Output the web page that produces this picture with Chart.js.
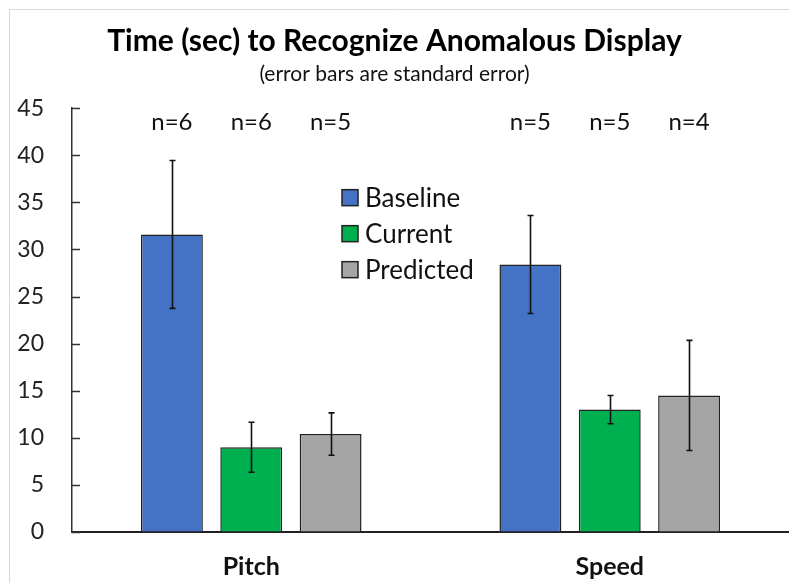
<!DOCTYPE html>
<html>
<head>
<meta charset="utf-8">
<script src="https://cdn.jsdelivr.net/npm/chart.js@4.4.0/dist/chart.umd.min.js"></script>
<style>
  html, body { margin: 0; padding: 0; background: #fff; }
  canvas { display: block; }
</style>
</head>
<body>
<canvas id="timeChart" width="789" height="583"></canvas>
<script>
const categories = ["Pitch", "Speed"];
const seriesNames = ["Baseline", "Current", "Predicted"];
const seriesColors = ["#4472c4", "#00b050", "#a5a5a5"];
// mean seconds per condition
const baseline = [31.6, 28.4];
const current = [9.0, 13.0];
const predicted = [10.4, 14.5];
// standard error
const baselineErr = [7.85, 5.2];
const currentErr = [2.65, 1.5];
const predictedErr = [2.25, 5.85];
// number of subjects
const baselineN = [6, 5];
const currentN = [6, 5];
const predictedN = [5, 4];
const yTicks = [0, 5, 10, 15, 20, 25, 30, 35, 40, 45];

const FONT = "Lato, 'Open Sans', sans-serif";

const errs = [baselineErr, currentErr, predictedErr];
const counts = [baselineN, currentN, predictedN];
const values = [baseline, current, predicted];

// frame, inward y tick marks, error bars, n= labels and legend
const extras = {
  id: 'extras',
  beforeDraw(chart) {
    const ctx = chart.ctx;
    ctx.save();
    ctx.strokeStyle = '#d9d9d9';
    ctx.lineWidth = 1;
    ctx.beginPath();
    ctx.moveTo(9.5, chart.height);
    ctx.lineTo(9.5, 9.5);
    ctx.lineTo(chart.width, 9.5);
    ctx.stroke();
    ctx.restore();
  },
  afterDatasetsDraw(chart) {
    const ctx = chart.ctx;
    const y = chart.scales.y;
    const area = chart.chartArea;
    ctx.save();

    // tick marks pointing into the plot
    ctx.strokeStyle = '#333';
    ctx.lineWidth = 1.5;
    yTicks.forEach(v => {
      const py = Math.round(y.getPixelForValue(v)) + 0.5;
      ctx.beginPath();
      ctx.moveTo(area.left, py);
      ctx.lineTo(area.left + 8, py);
      ctx.stroke();
    });

    // error bars
    ctx.strokeStyle = '#111';
    ctx.lineWidth = 1.6;
    chart.data.datasets.forEach((ds, di) => {
      const meta = chart.getDatasetMeta(di);
      meta.data.forEach((bar, i) => {
        const v = values[di][i];
        const e = errs[di][i];
        const x = Math.round(bar.x) + 0.5;
        const top = y.getPixelForValue(v + e);
        const bot = y.getPixelForValue(v - e);
        ctx.beginPath();
        ctx.moveTo(x, top);
        ctx.lineTo(x, bot);
        ctx.moveTo(x - 3, top);
        ctx.lineTo(x + 3, top);
        ctx.moveTo(x - 3, bot);
        ctx.lineTo(x + 3, bot);
        ctx.stroke();
      });
    });

    // subject counts above each bar
    ctx.fillStyle = '#111';
    ctx.font = '24px ' + FONT;
    ctx.textAlign = 'center';
    ctx.textBaseline = 'middle';
    chart.data.datasets.forEach((ds, di) => {
      const meta = chart.getDatasetMeta(di);
      meta.data.forEach((bar, i) => {
        ctx.fillText('n=' + counts[di][i], bar.x, y.getPixelForValue(43.5));
      });
    });

    // legend in the middle of the plot
    const lx = area.left + 270;
    const ly = y.getPixelForValue(35.5);
    ctx.font = '26px ' + FONT;
    ctx.textAlign = 'left';
    seriesNames.forEach((name, k) => {
      const cy = ly + k * 36;
      ctx.fillStyle = seriesColors[k];
      ctx.fillRect(lx, cy - 8, 16, 16);
      ctx.strokeStyle = '#222';
      ctx.lineWidth = 1.5;
      ctx.strokeRect(lx, cy - 8, 16, 16);
      ctx.fillStyle = '#111';
      ctx.fillText(name, lx + 23, cy + 1);
    });
    ctx.restore();
  }
};

new Chart(document.getElementById('timeChart'), {
  type: 'bar',
  data: {
    labels: categories,
    datasets: seriesNames.map((name, k) => ({
      label: name,
      data: values[k],
      backgroundColor: seriesColors[k],
      borderColor: '#222',
      borderWidth: 1.5,
      categoryPercentage: 0.664,
      barPercentage: 0.78
    }))
  },
  options: {
    responsive: false,
    animation: false,
    layout: { padding: { left: 0, right: 0, top: 0, bottom: 3 } },
    plugins: {
      legend: { display: false },
      tooltip: { enabled: false },
      title: {
        display: true,
        text: 'Time (sec) to Recognize Anomalous Display',
        color: '#000',
        font: { family: FONT, size: 30, weight: 'bold' },
        padding: { top: 23, bottom: 0 }
      },
      subtitle: {
        display: true,
        text: '(error bars are standard error)',
        color: '#111',
        font: { family: FONT, size: 21 },
        padding: { top: 3, bottom: 21 }
      }
    },
    scales: {
      x: {
        afterFit(scale) { scale.height = 48; },
        grid: { display: false, drawTicks: false },
        border: { display: true, color: '#222', width: 2 },
        ticks: {
          color: '#111',
          padding: 20,
          font: { family: FONT, size: 25, weight: 'bold' }
        }
      },
      y: {
        min: 0,
        max: 45,
        afterFit(scale) { scale.width = 72; },
        afterBuildTicks(scale) { scale.ticks = yTicks.map(v => ({ value: v })); },
        grid: { drawOnChartArea: false, drawTicks: false },
        border: { display: true, color: '#333', width: 1.5 },
        ticks: {
          color: '#222',
          padding: 28,
          font: { family: FONT, size: 23 }
        }
      }
    }
  },
  plugins: [extras]
});
</script>
</body>
</html>
